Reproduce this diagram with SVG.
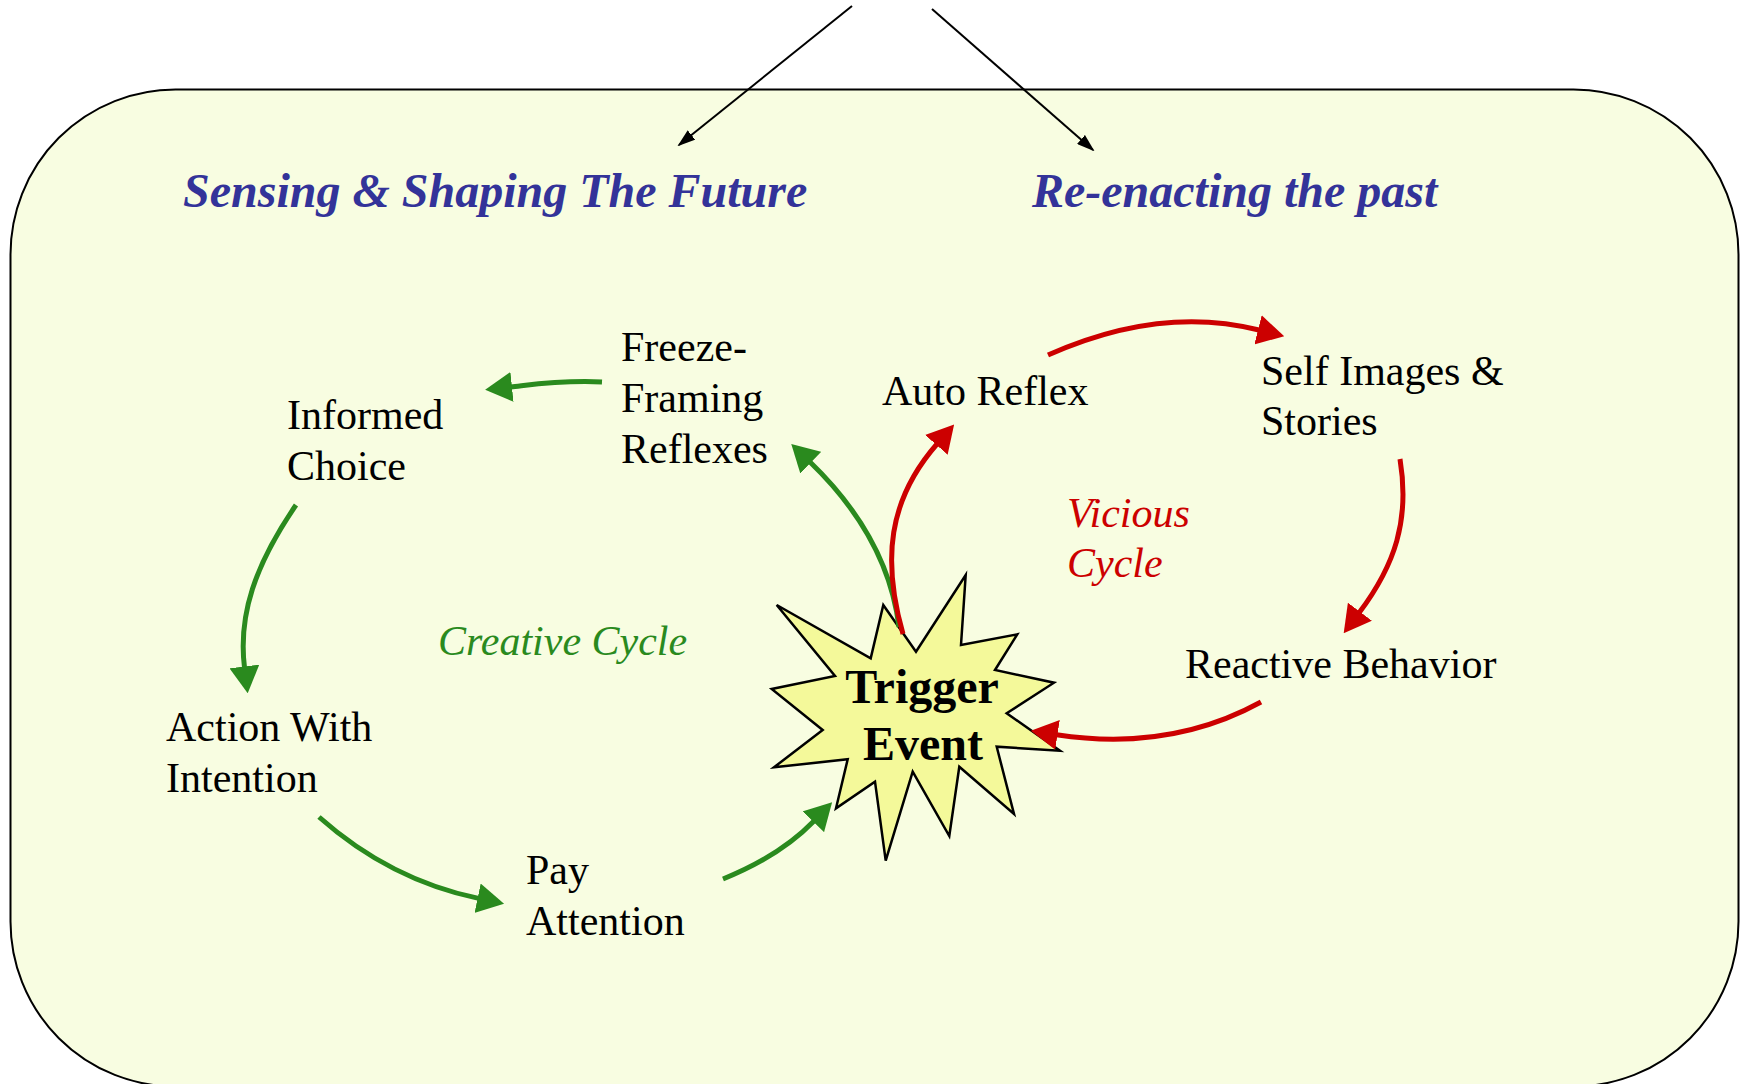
<svg xmlns="http://www.w3.org/2000/svg" width="1740" height="1084" viewBox="0 0 1740 1084">
<defs>
<style>
.lbl{font-family:"Liberation Serif","Times New Roman",serif;font-size:42px;fill:#000}
.ttl{font-family:"Liberation Serif","Times New Roman",serif;font-size:48px;font-weight:bold;font-style:italic;fill:#333399}
.trg{font-family:"Liberation Serif","Times New Roman",serif;font-size:48px;font-weight:bold;fill:#000;text-anchor:middle}
.g{fill:none;stroke:#2A8A1E;stroke-width:5}
.r{fill:none;stroke:#CC0000;stroke-width:5}
.k{fill:none;stroke:#000;stroke-width:2}
</style>
<marker id="ag" markerUnits="userSpaceOnUse" viewBox="0 0 27 30" markerWidth="27" markerHeight="30" refX="1" refY="15" orient="auto"><path d="M0,0 L27,15 L0,30 z" fill="#2A8A1E"/></marker>
<marker id="ar" markerUnits="userSpaceOnUse" viewBox="0 0 27 30" markerWidth="27" markerHeight="30" refX="1" refY="15" orient="auto"><path d="M0,0 L27,15 L0,30 z" fill="#CC0000"/></marker>
<marker id="ak" markerUnits="userSpaceOnUse" viewBox="0 0 18 12" markerWidth="18" markerHeight="12" refX="16" refY="6" orient="auto"><path d="M0,0 L18,6 L0,12 z" fill="#000"/></marker>
</defs>
<rect width="1740" height="1084" fill="#fff"/>
<g id="frame"><rect x="10.5" y="89.5" width="1728" height="997" rx="165" ry="165" fill="#F8FDE1" stroke="#000" stroke-width="2"/></g>
<g id="titles">
<text class="ttl" x="183" y="207">Sensing &amp; Shaping The Future</text>
<text class="ttl" x="1032" y="207">Re-enacting the past</text>
</g>
<g id="trigger">
<polygon points="776.7,605 870.7,658.3 883.3,605 916,651.7 965.7,575 961,645 1017.3,634.3 995,670 1054,682.7 1006.7,713.3 1060,750.7 996.7,746.7 1014,814 959.3,766.7 949.3,836 912.7,771.7 885.7,860.7 875,781.7 836,808.3 847.7,759.3 774,767.3 822.7,730 771.7,689 835,676" fill="#F4F99A" stroke="#000" stroke-width="2.5" stroke-linejoin="miter"/>
<text class="trg" x="922" y="703">Trigger</text>
<text class="trg" x="923" y="760">Event</text>
</g>
<g id="freeze"><text class="lbl" x="621" y="361">Freeze-</text><text class="lbl" x="621" y="412">Framing</text><text class="lbl" x="621" y="463">Reflexes</text></g>
<g id="informed"><text class="lbl" x="287" y="429">Informed</text><text class="lbl" x="287" y="480">Choice</text></g>
<g id="action"><text class="lbl" x="166" y="741">Action With</text><text class="lbl" x="166" y="792">Intention</text></g>
<g id="pay"><text class="lbl" x="526" y="884">Pay</text><text class="lbl" x="526" y="935">Attention</text></g>
<g id="auto"><text class="lbl" x="882" y="405">Auto Reflex</text></g>
<g id="self"><text class="lbl" x="1261" y="385">Self Images &amp;</text><text class="lbl" x="1261" y="435">Stories</text></g>
<g id="reactive"><text class="lbl" x="1185" y="678">Reactive Behavior</text></g>
<g id="cycles">
<text class="lbl" x="438" y="655" style="font-style:italic;fill:#2A8A1E">Creative Cycle</text>
<text class="lbl" x="1067" y="527" style="font-style:italic;fill:#CC0000">Vicious</text>
<text class="lbl" x="1067" y="577" style="font-style:italic;fill:#CC0000">Cycle</text>
</g>
<g id="connectors">
<path class="k" d="M852,6 L679,145" marker-end="url(#ak)"/>
<path class="k" d="M932,9 L1093,150" marker-end="url(#ak)"/>
<path class="g" d="M602,382 C560,380 530,385 511,387" marker-end="url(#ag)"/>
<path class="g" d="M296,505 C255,565 238,615 244.5,667.5" marker-end="url(#ag)"/>
<path class="g" d="M319,817 Q390,880 478.6,898.4" marker-end="url(#ag)"/>
<path class="g" d="M723,879 Q780,856 814,821" marker-end="url(#ag)"/>
<path class="g" d="M899,627 C892,570 865,515 810,462" marker-end="url(#ag)"/>
<path class="r" d="M903,634 C882,560 888,500 937,444" marker-end="url(#ar)"/>
<path class="r" d="M1048,355 Q1160,305 1259,330" marker-end="url(#ar)"/>
<path class="r" d="M1400,459 C1410,520 1395,565 1359.3,612.5" marker-end="url(#ar)"/>
<path class="r" d="M1261,702 Q1170,752 1056.5,734.7" marker-end="url(#ar)"/>
</g>
</svg>
